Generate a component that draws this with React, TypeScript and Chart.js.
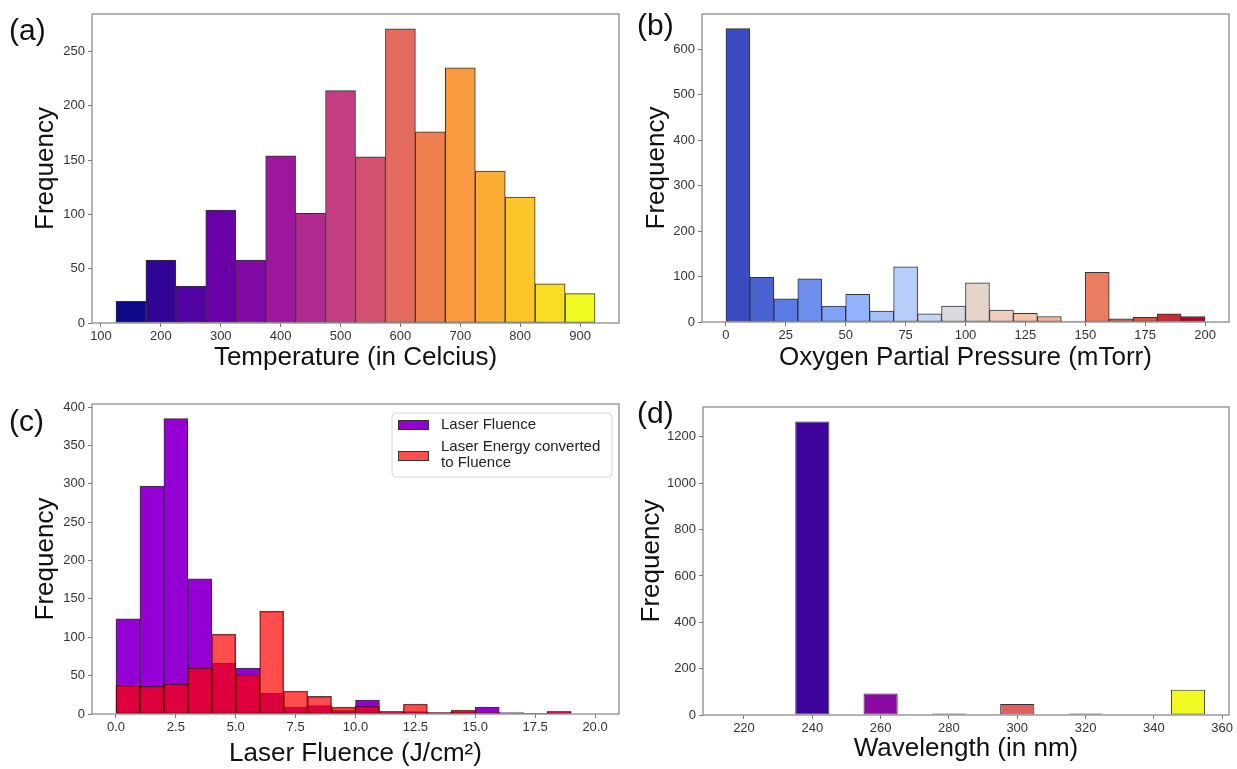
import React, { useEffect, useRef } from 'react';
import { Chart, registerables } from 'chart.js';

Chart.register(...registerables);

const FONT = "'Liberation Sans', Arial, Helvetica, sans-serif";

// ---------- (a) Temperature ----------
const tempCenters = [150, 200, 250, 300, 350, 400, 450, 500, 550, 600, 650, 700, 750, 800, 850, 900];
const tempFreq = [20, 58, 34, 104, 58, 154, 101, 214, 153, 271, 176, 235, 140, 116, 36, 27];
const tempXTicks = [100, 200, 300, 400, 500, 600, 700, 800, 900];
const tempYTicks = [0, 50, 100, 150, 200, 250];

// ---------- (b) Oxygen partial pressure ----------
const o2Centers = [5, 15, 25, 35, 45, 55, 65, 75, 85, 95, 105, 115, 125, 135, 145, 155, 165, 175, 185, 195];
const o2Freq = [645, 98, 51, 95, 35, 61, 24, 121, 18, 35, 86, 26, 19, 12, 2, 109, 7, 10, 18, 12];
const o2XTicks = [0, 25, 50, 75, 100, 125, 150, 175, 200];
const o2YTicks = [0, 100, 200, 300, 400, 500, 600];

// ---------- (c) Laser fluence ----------
const fluCenters = [0.5, 1.5, 2.5, 3.5, 4.5, 5.5, 6.5, 7.5, 8.5, 9.5, 10.5, 11.5, 12.5, 13.5, 14.5, 15.5, 16.5, 17.5, 18.5, 19.5];
const laserFluence = [124, 297, 385, 176, 66, 60, 27, 9, 11, 5, 18, 3, 3, 2, 3, 9, 2, 1, 3, 0];
const energyFluence = [37, 36, 39, 60, 104, 51, 134, 30, 23, 9, 10, 3, 13, 2, 5, 2, 0, 1, 3, 0];
const fluXTicks = [0, 2.5, 5, 7.5, 10, 12.5, 15, 17.5, 20];
const fluYTicks = [0, 50, 100, 150, 200, 250, 300, 350, 400];
const fluLegendLines = [['Laser Fluence'], ['Laser Energy converted', 'to Fluence']];

// ---------- (d) Wavelength ----------
const waveCenters = [240, 260, 280, 300, 320, 350];
const waveFreq = [1266, 93, 7, 48, 6, 109];
const waveXTicks = [220, 240, 260, 280, 300, 320, 340, 360];
const waveYTicks = [0, 200, 400, 600, 800, 1000, 1200];

// ---------- styles ----------
const tempColors = ['#0d0887', '#300595', '#5003a1', '#6a01a6', '#830aa4', '#9c179e', '#b02a90', '#c23d81',
  '#d35170', '#e26a5e', '#ef7f4f', '#f89a3f', '#fcad33', '#fdc52a', '#f8dd24', '#f0f921'];
const o2Colors = ['#3b4cc0', '#4b63d2', '#5c7ae3', '#6d8eef', '#7fa1f8', '#92b3fe', '#a4c1fb', '#b6cef9',
  '#c6d5ef', '#d8dadf', '#e4d4ca', '#eccdbf', '#f5c2aa', '#f5b095', '#f49e80', '#ea7c62', '#e46f59', '#d75247', '#c62b36', '#b40426'];
const waveColors = ['#3c049b', '#8b0aa5', '#b83289', '#e0605f', '#f89540', '#f0f921'];
const PURPLE = '#9400d3';
const RED = 'rgba(255,0,0,0.7)';
const EDGE = '#333333';

const boxPlugin = {
  id: 'frameBox',
  afterDatasetsDraw(chart: any) {
    const { ctx, chartArea } = chart;
    ctx.save();
    ctx.strokeStyle = '#8c8c8c';
    ctx.lineWidth = 1.3;
    ctx.strokeRect(chartArea.left, chartArea.top, chartArea.right - chartArea.left, chartArea.bottom - chartArea.top);
    ctx.restore();
  },
};

const legendPlugin = {
  id: 'fluLegend',
  afterDraw(chart: any) {
    const { ctx, chartArea } = chart;
    const w = 220;
    const h = 64;
    const right = chartArea.right - 7;
    const left = right - w;
    const top = chartArea.top + 9;
    ctx.save();
    const r = 4;
    ctx.beginPath();
    ctx.moveTo(left + r, top);
    ctx.lineTo(left + w - r, top);
    ctx.quadraticCurveTo(left + w, top, left + w, top + r);
    ctx.lineTo(left + w, top + h - r);
    ctx.quadraticCurveTo(left + w, top + h, left + w - r, top + h);
    ctx.lineTo(left + r, top + h);
    ctx.quadraticCurveTo(left, top + h, left, top + h - r);
    ctx.lineTo(left, top + r);
    ctx.quadraticCurveTo(left, top, left + r, top);
    ctx.closePath();
    ctx.fillStyle = 'rgba(255,255,255,0.85)';
    ctx.fill();
    ctx.strokeStyle = '#d6d6d6';
    ctx.lineWidth = 1;
    ctx.stroke();

    const ds = chart.data.datasets;
    const patchY = [top + 7, top + 38];
    const textY = [[top + 12], [top + 34, top + 50]];
    const order = [1, 0];
    ctx.font = `15px ${FONT}`;
    ctx.textBaseline = 'middle';
    ctx.textAlign = 'left';
    for (let k = 0; k < 2; k++) {
      const d = ds[order[k]];
      ctx.fillStyle = d.legendColor;
      ctx.fillRect(left + 6, patchY[k], 31, 10);
      ctx.strokeStyle = EDGE;
      ctx.lineWidth = 1;
      ctx.strokeRect(left + 6.5, patchY[k] + 0.5, 30, 9);
      ctx.fillStyle = '#222';
      fluLegendLines[k].forEach((line, j) => ctx.fillText(line, left + 49, textY[k][j]));
    }
    ctx.restore();
  },
};

type Panel = {
  x: number; y: number; w: number; h: number;
  pad: { left: number; top: number; right: number; bottom: number };
  yWidth: number; xHeight: number;
  xMin: number; xMax: number; yMax: number;
  xTicks: number[]; yTicks: number[];
  xFmt: (v: number) => string;
  xTitle: string; xTitlePad: number; yTitlePad: number;
  datasets: any[];
  legend?: boolean;
};

const gridOpts = {
  display: true,
  drawOnChartArea: false,
  drawTicks: true,
  tickLength: 4,
  tickColor: '#777',
  offset: false,
};

function makeConfig(p: Panel): any {
  return {
    type: 'bar',
    data: { datasets: p.datasets },
    options: {
      responsive: false,
      animation: false,
      devicePixelRatio: 1,
      layout: { padding: p.pad },
      plugins: { legend: { display: false }, tooltip: { enabled: false } },
      scales: {
        x: {
          type: 'linear',
          min: p.xMin,
          max: p.xMax,
          offset: false,
          grid: gridOpts,
          border: { display: false },
          ticks: {
            font: { family: FONT, size: 13 },
            color: '#333',
            padding: 2,
            maxRotation: 0,
            autoSkip: false,
            callback: (v: any) => p.xFmt(Number(v)),
          },
          title: {
            display: true,
            text: p.xTitle,
            font: { family: FONT, size: 26, lineHeight: 1.2 },
            color: '#111',
            padding: { top: 0, bottom: p.xTitlePad },
          },
          afterBuildTicks: (s: any) => { s.ticks = p.xTicks.map((v) => ({ value: v })); },
          afterFit: (s: any) => {
            s.height = p.xHeight;
            s.paddingLeft = 0; s.paddingRight = 0; s.paddingTop = 0; s.paddingBottom = 0;
          },
        },
        y: {
          type: 'linear',
          min: 0,
          max: p.yMax,
          grid: gridOpts,
          border: { display: false },
          ticks: {
            font: { family: FONT, size: 13 },
            color: '#333',
            padding: 3,
            autoSkip: false,
            callback: (v: any) => String(v),
          },
          title: {
            display: true,
            text: 'Frequency',
            font: { family: FONT, size: 26, lineHeight: 1.2 },
            color: '#111',
            padding: { top: p.yTitlePad, bottom: 0 },
          },
          afterBuildTicks: (s: any) => { s.ticks = p.yTicks.map((v) => ({ value: v })); },
          afterFit: (s: any) => {
            s.width = p.yWidth;
            s.paddingLeft = 0; s.paddingRight = 0; s.paddingTop = 0; s.paddingBottom = 0;
          },
        },
      },
    },
    plugins: p.legend ? [boxPlugin, legendPlugin] : [boxPlugin],
  };
}

const toPoints = (xs: number[], ys: number[]) => xs.map((x, i) => ({ x, y: ys[i] }));

const intFmt = (v: number) => String(v);

const panels: Panel[] = [
  {
    x: 0, y: 0, w: 628, h: 375,
    pad: { left: 0, top: 14, right: 9, bottom: 0 },
    yWidth: 92, xHeight: 52,
    xMin: 85, xMax: 965, yMax: 284.55,
    xTicks: tempXTicks, yTicks: tempYTicks, xFmt: intFmt,
    xTitle: 'Temperature (in Celcius)', xTitlePad: 2, yTitlePad: 30,
    datasets: [{
      label: 'Temperature', data: toPoints(tempCenters, tempFreq),
      backgroundColor: tempColors, borderColor: EDGE, borderWidth: 1, borderSkipped: false,
      barPercentage: 1, categoryPercentage: 1,
    }],
  },
  {
    x: 628, y: 0, w: 609, h: 375,
    pad: { left: 0, top: 14, right: 8, bottom: 0 },
    yWidth: 74, xHeight: 53,
    xMin: -10, xMax: 210, yMax: 677,
    xTicks: o2XTicks, yTicks: o2YTicks, xFmt: intFmt,
    xTitle: 'Oxygen Partial Pressure (mTorr)', xTitlePad: 2, yTitlePad: 13,
    datasets: [{
      label: 'Oxygen', data: toPoints(o2Centers, o2Freq),
      backgroundColor: o2Colors, borderColor: EDGE, borderWidth: 1, borderSkipped: false,
      barPercentage: 1, categoryPercentage: 1,
    }],
  },
  {
    x: 0, y: 380, w: 628, h: 389,
    pad: { left: 0, top: 24, right: 9, bottom: 0 },
    yWidth: 92, xHeight: 55,
    xMin: -1, xMax: 21, yMax: 404,
    xTicks: fluXTicks, yTicks: fluYTicks, xFmt: (v: number) => v.toFixed(1),
    xTitle: 'Laser Fluence (J/cm²)', xTitlePad: 0, yTitlePad: 30,
    legend: true,
    datasets: [
      {
        label: 'Laser Energy converted to Fluence', data: toPoints(fluCenters, energyFluence),
        backgroundColor: RED, legendColor: RED, borderColor: 'rgba(40,0,0,0.75)', borderWidth: 1, borderSkipped: false,
        barPercentage: 1, categoryPercentage: 1, grouped: false, order: 0,
      },
      {
        label: 'Laser Fluence', data: toPoints(fluCenters, laserFluence),
        backgroundColor: PURPLE, legendColor: PURPLE, borderColor: EDGE, borderWidth: 1, borderSkipped: false,
        barPercentage: 1, categoryPercentage: 1, grouped: false, order: 1,
      },
    ],
  },
  {
    x: 628, y: 380, w: 609, h: 389,
    pad: { left: 0, top: 27, right: 8, bottom: 0 },
    yWidth: 75, xHeight: 54,
    xMin: 208, xMax: 362, yMax: 1329,
    xTicks: waveXTicks, yTicks: waveYTicks, xFmt: intFmt,
    xTitle: 'Wavelength (in nm)', xTitlePad: 5, yTitlePad: 8,
    datasets: [{
      label: 'Wavelength', data: toPoints(waveCenters, waveFreq),
      backgroundColor: waveColors, borderColor: EDGE, borderWidth: 1, borderSkipped: false,
      barPercentage: 0.5, categoryPercentage: 1,
    }],
  },
];

function PanelChart({ p }: { p: Panel }) {
  const ref = useRef<HTMLCanvasElement | null>(null);
  useEffect(() => {
    if (!ref.current) return;
    const chart = new Chart(ref.current, makeConfig(p));
    return () => chart.destroy();
  }, []);
  return (
    <canvas
      ref={ref}
      width={p.w}
      height={p.h}
      style={{ position: 'absolute', left: p.x, top: p.y, width: p.w, height: p.h }}
    />
  );
}

const panelLabels = [
  { text: '(a)', x: 9, y: 15 },
  { text: '(b)', x: 637, y: 10 },
  { text: '(c)', x: 9, y: 406 },
  { text: '(d)', x: 637, y: 398 },
];

export default function App() {
  return (
    <div style={{ position: 'absolute', left: 0, top: 0, width: 1237, height: 769, background: '#fff', overflow: 'hidden' }}>
      {panels.map((p, i) => <PanelChart key={i} p={p} />)}
      {panelLabels.map((l) => (
        <div
          key={l.text}
          style={{
            position: 'absolute', left: l.x, top: l.y, fontFamily: FONT, fontSize: 30,
            lineHeight: '30px', color: '#111', pointerEvents: 'none',
          }}
        >
          {l.text}
        </div>
      ))}
    </div>
  );
}
